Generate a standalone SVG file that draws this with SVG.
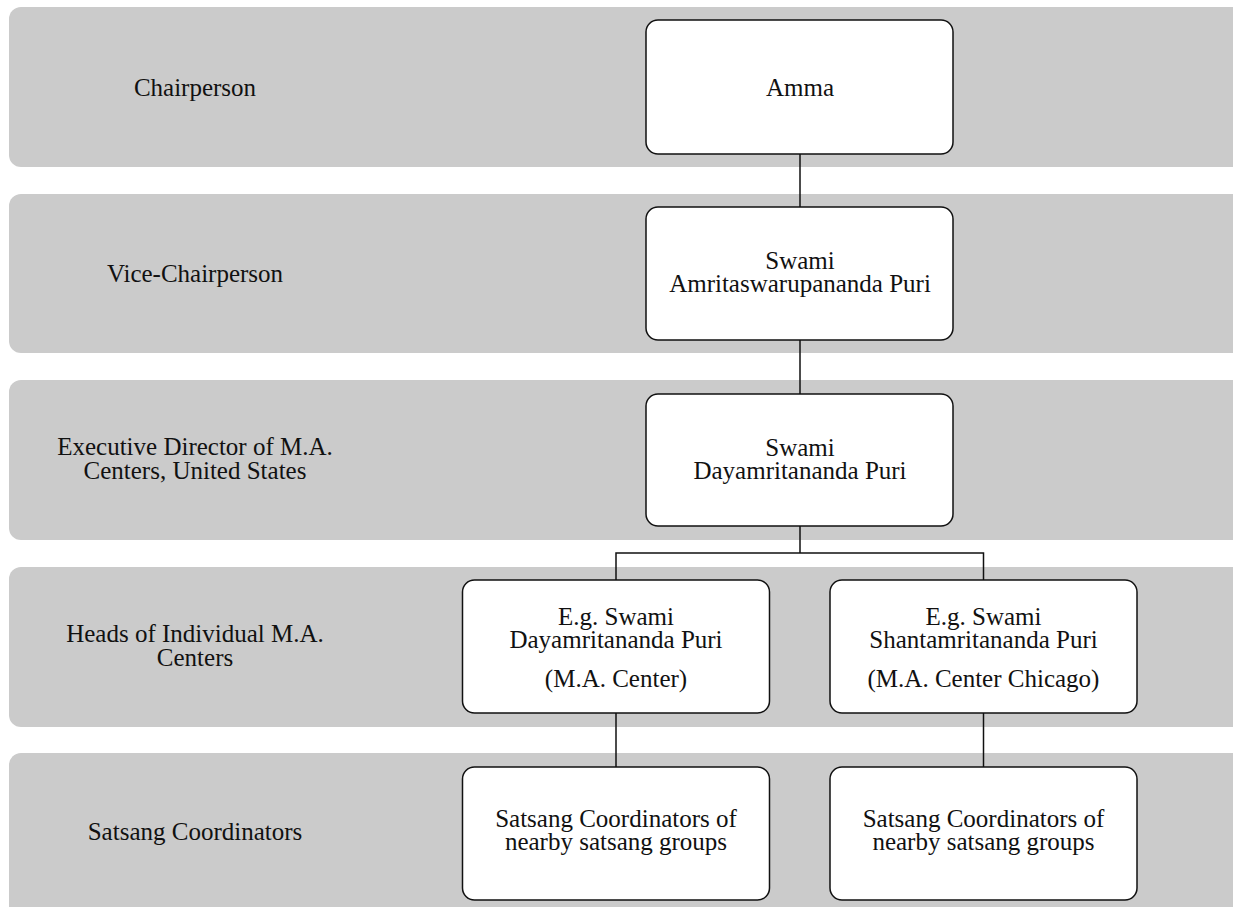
<svg xmlns="http://www.w3.org/2000/svg" width="1233" height="907" viewBox="0 0 1233 907">
<style>
.band{fill:#cbcbcb;}
.box{fill:#ffffff;stroke:#111111;stroke-width:1.5;}
.conn{fill:none;stroke:#111111;stroke-width:1.5;}
text{font-family:"Liberation Serif","Times New Roman",serif;font-size:25px;fill:#111111;text-anchor:middle;}
</style>
<rect width="1233" height="907" fill="#ffffff"/>
<g id="bands">
<rect class="band" x="9" y="7" width="1240" height="160" rx="12"/>
<rect class="band" x="9" y="194" width="1240" height="159" rx="12"/>
<rect class="band" x="9" y="380" width="1240" height="160" rx="12"/>
<rect class="band" x="9" y="567" width="1240" height="160" rx="12"/>
<rect class="band" x="9" y="753" width="1240" height="170" rx="12"/>
</g>
<g id="labels">
<text x="195" y="96">Chairperson</text>
<text x="195" y="282">Vice-Chairperson</text>
<text x="195" y="455">Executive Director of M.A.</text>
<text x="195" y="479">Centers, United States</text>
<text x="195" y="642">Heads of Individual M.A.</text>
<text x="195" y="666">Centers</text>
<text x="195" y="840">Satsang Coordinators</text>
</g>
<g id="connectors">
<line class="conn" x1="800" y1="154" x2="800" y2="207"/>
<line class="conn" x1="800" y1="340" x2="800" y2="394"/>
<polyline class="conn" points="800,526 800,553"/>
<polyline class="conn" points="616,580 616,553 983.5,553 983.5,580"/>
<line class="conn" x1="616" y1="713" x2="616" y2="767"/>
<line class="conn" x1="983.5" y1="713" x2="983.5" y2="767"/>
</g>
<g id="node-amma">
<rect class="box" x="646" y="20" width="307" height="134" rx="12"/>
<text x="800" y="96">Amma</text>
</g>
<g id="node-vice">
<rect class="box" x="646" y="207" width="307" height="133" rx="12"/>
<text x="800" y="269">Swami</text>
<text x="800" y="292">Amritaswarupananda Puri</text>
</g>
<g id="node-exec">
<rect class="box" x="646" y="394" width="307" height="132" rx="12"/>
<text x="800" y="455.5">Swami</text>
<text x="800" y="478.5">Dayamritananda Puri</text>
</g>
<g id="node-head-left">
<rect class="box" x="462.5" y="580" width="307" height="133" rx="12"/>
<text x="616" y="625">E.g. Swami</text>
<text x="616" y="648">Dayamritananda Puri</text>
<text x="616" y="687">(M.A. Center)</text>
</g>
<g id="node-head-right">
<rect class="box" x="830" y="580" width="307" height="133" rx="12"/>
<text x="983.5" y="625">E.g. Swami</text>
<text x="983.5" y="648">Shantamritananda Puri</text>
<text x="983.5" y="687">(M.A. Center Chicago)</text>
</g>
<g id="node-satsang-left">
<rect class="box" x="462.5" y="767" width="307" height="133" rx="12"/>
<text x="616" y="827">Satsang Coordinators of</text>
<text x="616" y="850">nearby satsang groups</text>
</g>
<g id="node-satsang-right">
<rect class="box" x="830" y="767" width="307" height="133" rx="12"/>
<text x="983.5" y="827">Satsang Coordinators of</text>
<text x="983.5" y="850">nearby satsang groups</text>
</g>
</svg>
